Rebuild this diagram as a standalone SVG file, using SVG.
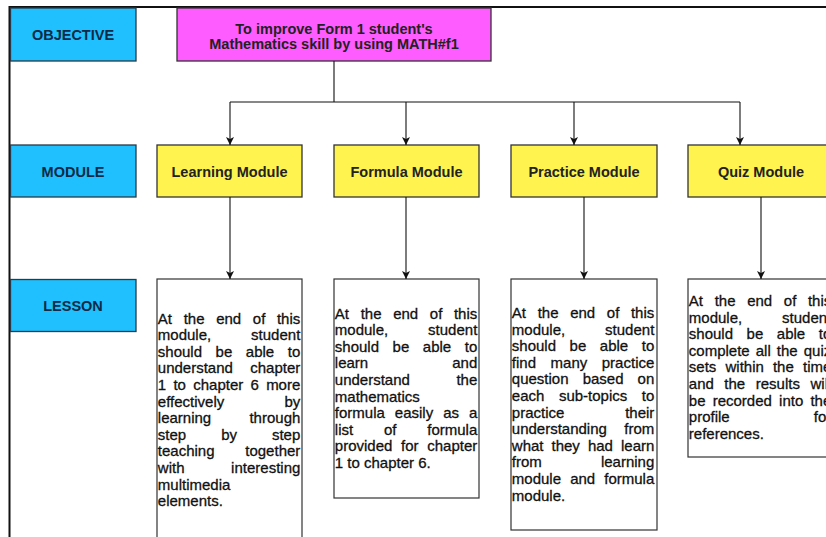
<svg xmlns="http://www.w3.org/2000/svg" width="826" height="537" viewBox="0 0 826 537">
  <style>
    .frame { stroke: #111; stroke-width: 2; fill: none; }
    .row { fill: #1fc0fd; stroke: #2a3a48; stroke-width: 1.3; }
    .goal { fill: #ff5cff; stroke: #333; stroke-width: 1.3; }
    .mod { fill: #fff44f; stroke: #333; stroke-width: 1.3; }
    .lesson { fill: #fff; stroke: #333; stroke-width: 1.2; }
    .rowlabel { font-family: "Liberation Sans", Arial, sans-serif; font-weight: bold; font-size: 14.5px; fill: #0e2a47; text-anchor: middle; }
    .head { font-family: "Liberation Sans", Arial, sans-serif; font-weight: bold; font-size: 14.5px; fill: #222; text-anchor: middle; }
    .body { font-family: "Liberation Sans", Arial, sans-serif; font-size: 15px; fill: #111; stroke: #111; stroke-width: 0.3; }
    .link { stroke: #111; stroke-width: 1.1; fill: none; }
    .arrow { marker-end: url(#tip); }
  </style>
  <defs>
    <marker id="tip" viewBox="0 0 10 10" refX="10" refY="5" markerWidth="8" markerHeight="8" markerUnits="userSpaceOnUse" orient="auto">
      <path d="M0,0 L10,5 L0,10 L2.5,5 Z" fill="#111"/>
    </marker>
  </defs>

  <rect width="826" height="537" fill="#fff"/>

  <!-- outer frame: top and left edges only -->
  <path class="frame" d="M9.5,537 V7 H826"/>

  <!-- row labels -->
  <g id="row-objective">
    <rect class="row" x="10.5" y="8" width="125.5" height="53"/>
    <text class="rowlabel" x="73" y="40">OBJECTIVE</text>
  </g>
  <g id="row-module">
    <rect class="row" x="10.5" y="145" width="125.5" height="52"/>
    <text class="rowlabel" x="73" y="176.5">MODULE</text>
  </g>
  <g id="row-lesson">
    <rect class="row" x="10.5" y="279.5" width="125.5" height="52"/>
    <text class="rowlabel" x="73" y="310.5">LESSON</text>
  </g>

  <!-- objective -->
  <g id="objective">
    <rect class="goal" x="177" y="8" width="314" height="53"/>
    <text class="head" x="334" y="33.5">To improve Form 1 student's</text>
    <text class="head" x="334" y="49">Mathematics skill by using MATH#f1</text>
  </g>

  <!-- modules -->
  <g id="module-learning">
    <rect class="mod" x="157" y="145" width="145" height="52"/>
    <text class="head" x="229.5" y="176.5">Learning Module</text>
  </g>
  <g id="module-formula">
    <rect class="mod" x="334" y="145" width="145" height="52"/>
    <text class="head" x="406.5" y="176.5">Formula Module</text>
  </g>
  <g id="module-practice">
    <rect class="mod" x="511" y="145" width="146" height="52"/>
    <text class="head" x="584" y="176.5">Practice Module</text>
  </g>
  <g id="module-quiz">
    <rect class="mod" x="688" y="145" width="146" height="52"/>
    <text class="head" x="761" y="176.5">Quiz Module</text>
  </g>

  <!-- lessons (justified text, word positions set per line) -->
  <g id="lesson-learning">
    <rect class="lesson" x="157" y="279" width="145" height="280"/>
    <text class="body" y="323.5"><tspan x="157.8">At</tspan><tspan x="183.63">the</tspan><tspan x="216.13">end</tspan><tspan x="252.8">of</tspan><tspan x="276.96">this</tspan></text>
    <text class="body" y="340.1"><tspan x="157.8">module,</tspan><tspan x="251.1">student</tspan></text>
    <text class="body" y="356.7"><tspan x="157.8">should</tspan><tspan x="215.58">be</tspan><tspan x="245.85">able</tspan><tspan x="287.79">to</tspan></text>
    <text class="body" y="373.3"><tspan x="157.8">understand</tspan><tspan x="250.28">chapter</tspan></text>
    <text class="body" y="389.9"><tspan x="157.8">1</tspan><tspan x="173.42">to</tspan><tspan x="193.21">chapter</tspan><tspan x="250.51">6</tspan><tspan x="266.13">more</tspan></text>
    <text class="body" y="406.5"><tspan x="157.8">effectively</tspan><tspan x="284.46">by</tspan></text>
    <text class="body" y="423.1"><tspan x="157.8">learning</tspan><tspan x="249.44">through</tspan></text>
    <text class="body" y="439.7"><tspan x="157.8">step</tspan><tspan x="221.13">by</tspan><tspan x="271.95">step</tspan></text>
    <text class="body" y="456.3"><tspan x="157.8">teaching</tspan><tspan x="245.27">together</tspan></text>
    <text class="body" y="472.9"><tspan x="157.8">with</tspan><tspan x="231.11">interesting</tspan></text>
    <text class="body" x="157.8" y="489.5">multimedia</text>
    <text class="body" x="157.8" y="506.1">elements.</text>
  </g>

  <g id="lesson-formula">
    <rect class="lesson" x="334" y="279" width="145" height="219"/>
    <text class="body" y="318.5"><tspan x="334.8">At</tspan><tspan x="360.63">the</tspan><tspan x="393.13">end</tspan><tspan x="429.8">of</tspan><tspan x="453.96">this</tspan></text>
    <text class="body" y="335.1"><tspan x="334.8">module,</tspan><tspan x="428.1">student</tspan></text>
    <text class="body" y="351.7"><tspan x="334.8">should</tspan><tspan x="392.58">be</tspan><tspan x="422.85">able</tspan><tspan x="464.79">to</tspan></text>
    <text class="body" y="368.3"><tspan x="334.8">learn</tspan><tspan x="452.28">and</tspan></text>
    <text class="body" y="384.9"><tspan x="334.8">understand</tspan><tspan x="456.45">the</tspan></text>
    <text class="body" x="334.8" y="401.5">mathematics</text>
    <text class="body" y="418.1"><tspan x="334.8">formula</tspan><tspan x="394.8">easily</tspan><tspan x="443.13">as</tspan><tspan x="468.96">a</tspan></text>
    <text class="body" y="434.7"><tspan x="334.8">list</tspan><tspan x="383.96">of</tspan><tspan x="427.29">formula</tspan></text>
    <text class="body" y="451.3"><tspan x="334.8">provided</tspan><tspan x="401.05">for</tspan><tspan x="427.28">chapter</tspan></text>
    <text class="body" x="334.8" y="467.9">1 to chapter 6.</text>
  </g>

  <g id="lesson-practice">
    <rect class="lesson" x="511" y="279" width="146" height="251"/>
    <text class="body" y="318"><tspan x="511.8">At</tspan><tspan x="537.63">the</tspan><tspan x="570.13">end</tspan><tspan x="606.8">of</tspan><tspan x="630.96">this</tspan></text>
    <text class="body" y="334.6"><tspan x="511.8">module,</tspan><tspan x="605.1">student</tspan></text>
    <text class="body" y="351.2"><tspan x="511.8">should</tspan><tspan x="569.58">be</tspan><tspan x="599.85">able</tspan><tspan x="641.79">to</tspan></text>
    <text class="body" y="367.8"><tspan x="511.8">find</tspan><tspan x="550.55">many</tspan><tspan x="601.79">practice</tspan></text>
    <text class="body" y="384.4"><tspan x="511.8">question</tspan><tspan x="582.63">based</tspan><tspan x="637.62">on</tspan></text>
    <text class="body" y="401"><tspan x="511.8">each</tspan><tspan x="558.88">sub-topics</tspan><tspan x="641.79">to</tspan></text>
    <text class="body" y="417.6"><tspan x="511.8">practice</tspan><tspan x="625.13">their</tspan></text>
    <text class="body" y="434.2"><tspan x="511.8">understanding</tspan><tspan x="624.3">from</tspan></text>
    <text class="body" y="450.8"><tspan x="511.8">what</tspan><tspan x="551.52">they</tspan><tspan x="587.9">had</tspan><tspan x="620.96">learn</tspan></text>
    <text class="body" y="467.4"><tspan x="511.8">from</tspan><tspan x="600.95">learning</tspan></text>
    <text class="body" y="484"><tspan x="511.8">module</tspan><tspan x="570.13">and</tspan><tspan x="604.29">formula</tspan></text>
    <text class="body" x="511.8" y="500.6">module.</text>
  </g>

  <g id="lesson-quiz">
    <rect class="lesson" x="688" y="279" width="146" height="178"/>
    <text class="body" y="306"><tspan x="688.8">At</tspan><tspan x="714.63">the</tspan><tspan x="747.13">end</tspan><tspan x="783.8">of</tspan><tspan x="807.96">this</tspan></text>
    <text class="body" y="322.6"><tspan x="688.8">module,</tspan><tspan x="782.1">student</tspan></text>
    <text class="body" y="339.2"><tspan x="688.8">should</tspan><tspan x="746.58">be</tspan><tspan x="776.85">able</tspan><tspan x="818.79">to</tspan></text>
    <text class="body" y="355.8"><tspan x="688.8">complete</tspan><tspan x="755.75">all</tspan><tspan x="776.85">the</tspan><tspan x="803.79">quiz</tspan></text>
    <text class="body" y="372.4"><tspan x="688.8">sets</tspan><tspan x="725.47">within</tspan><tspan x="772.96">the</tspan><tspan x="802.97">time</tspan></text>
    <text class="body" y="389"><tspan x="688.8">and</tspan><tspan x="724.37">the</tspan><tspan x="755.76">results</tspan><tspan x="810.48">will</tspan></text>
    <text class="body" y="405.6"><tspan x="688.8">be</tspan><tspan x="712.68">recorded</tspan><tspan x="779.07">into</tspan><tspan x="810.45">the</tspan></text>
    <text class="body" y="422.2"><tspan x="688.8">profile</tspan><tspan x="813.8">for</tspan></text>
    <text class="body" x="688.8" y="438.8">references.</text>
  </g>

  <!-- connectors -->
  <g id="connectors">
    <path class="link" d="M334,61 V102 M230,102 H740"/>
    <path class="link arrow" d="M230,102 V145"/>
    <path class="link arrow" d="M406,102 V145"/>
    <path class="link arrow" d="M574,102 V145"/>
    <path class="link arrow" d="M740,102 V145"/>
    <path class="link arrow" d="M230,197 V279"/>
    <path class="link arrow" d="M406,197 V279"/>
    <path class="link arrow" d="M584,197 V279"/>
    <path class="link arrow" d="M761,197 V279"/>
  </g>
</svg>
